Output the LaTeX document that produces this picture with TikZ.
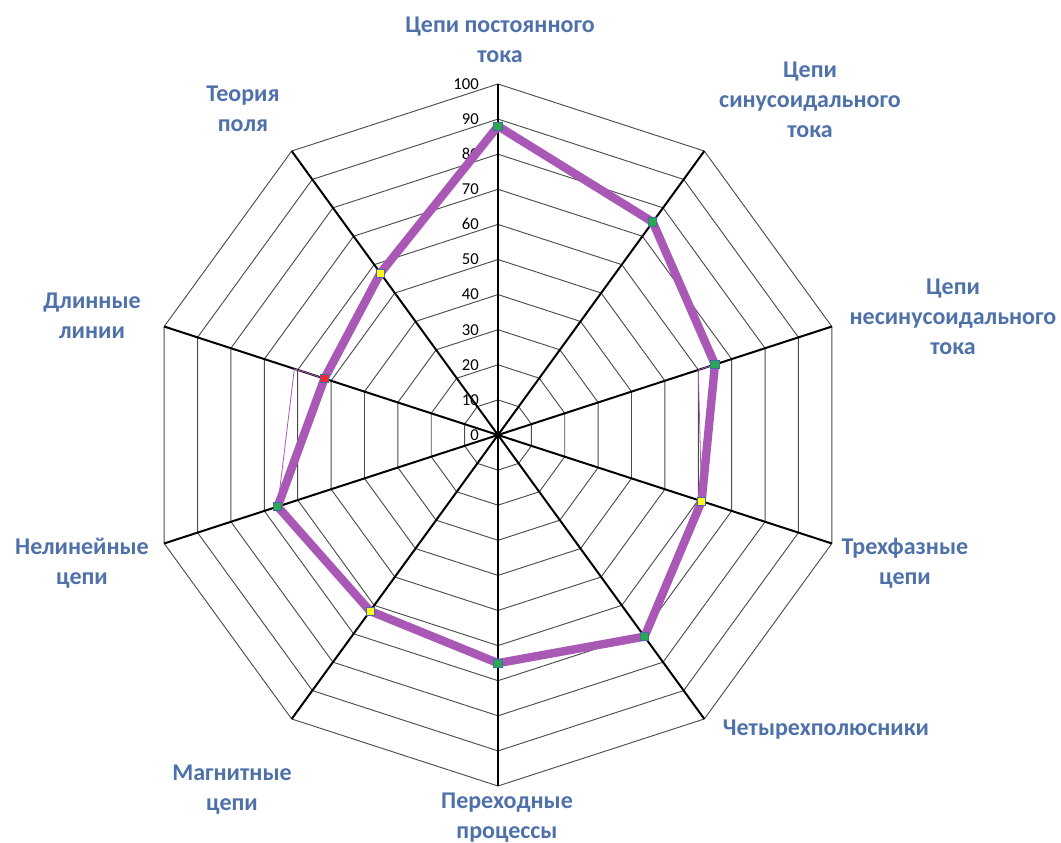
\documentclass[tikz,border=0pt]{standalone}
\usepackage{fontspec}
\setmainfont{Carlito}
\definecolor{linecol}{RGB}{170,88,182}
\definecolor{labcol}{RGB}{79,113,170}
\definecolor{markedge}{RGB}{68,104,170}
\definecolor{mgreen}{RGB}{40,170,80}
\definecolor{myellow}{RGB}{255,250,20}
\definecolor{mred}{RGB}{250,40,40}

\begin{document}
\begin{tikzpicture}[x=0.75pt,y=0.75pt,
  spoke/.style={line width=1.5pt,black},
  ring/.style={line width=0.7pt,black!70},
  series/.style={line width=6.3pt,linecol,line join=round},
  thinser/.style={line width=0.6pt,linecol},
  dot/.style={rectangle,draw=markedge,line width=0.6pt,minimum size=6.2pt,inner sep=0pt},
  cat/.style={font=\bfseries\fontsize{18}{22.5}\selectfont,text=labcol,align=center},
  tick/.style={font=\fontsize{12.5}{14}\selectfont,anchor=east,inner sep=0pt}]
  \useasboundingbox (-498,-408) rectangle (563,435);
  \foreach \r in {1,...,10}
    \draw[ring] (90:35.1*\r) \foreach \k in {1,...,9} {-- ({90-36*\k}:35.1*\r)} -- cycle;
  \foreach \k in {0,...,9}
    \coordinate (v\k) at ({90-36*\k}:351);
  \coordinate (o) at (0,0);
  \foreach \k in {0,...,9}
    \draw[spoke] (o) -- (v\k);
  \foreach \t [evaluate=\t as \y using 3.51*\t] in {0,10,...,100}
    \node[tick] at (-19,\y) {\t};

  \foreach \v [count=\k from 0] in {88,75,65,61,71,65,62,66,52,57}
    \coordinate (p\k) at ({90-36*\k}:3.51*\v);
  \coordinate (q2) at (18:3.51*60);
  \coordinate (q8) at (162:3.51*61);
  \draw[thinser] (p2) -- (q2) -- (p3);
  \draw[thinser] (p8) -- (q8) -- (p7);
  \draw[series] (p0) \foreach \k in {1,...,9} {-- (p\k)} -- cycle;
  \foreach \k/\c in {0/mgreen,1/mgreen,2/mgreen,3/myellow,4/mgreen,
                     5/mgreen,6/myellow,7/mgreen,8/mred,9/myellow}
    \node[dot,fill=\c] (m\k) at (p\k) {};

  \node[cat] (c0) at (2,395) {Цепи постоянного\\тока};
  \node[cat] (c1) at (312,335) {Цепи\\синусоидального\\тока};
  \node[cat] (c2) at (455,118) {Цепи\\несинусоидального\\тока};
  \node[cat] (c3) at (407,-128) {Трехфазные\\цепи};
  \node[cat] (c4) at (328,-295) {Четырехполюсники};
  \node[cat] (c5) at (9,-383) {Переходные\\процессы};
  \node[cat] (c6) at (-266,-355) {Магнитные\\цепи};
  \node[cat] (c7) at (-416,-128) {Нелинейные\\цепи};
  \node[cat] (c8) at (-406,119) {Длинные\\линии};
  \node[cat] (c9) at (-255,326) {Теория\\поля};
\end{tikzpicture}
\end{document}
